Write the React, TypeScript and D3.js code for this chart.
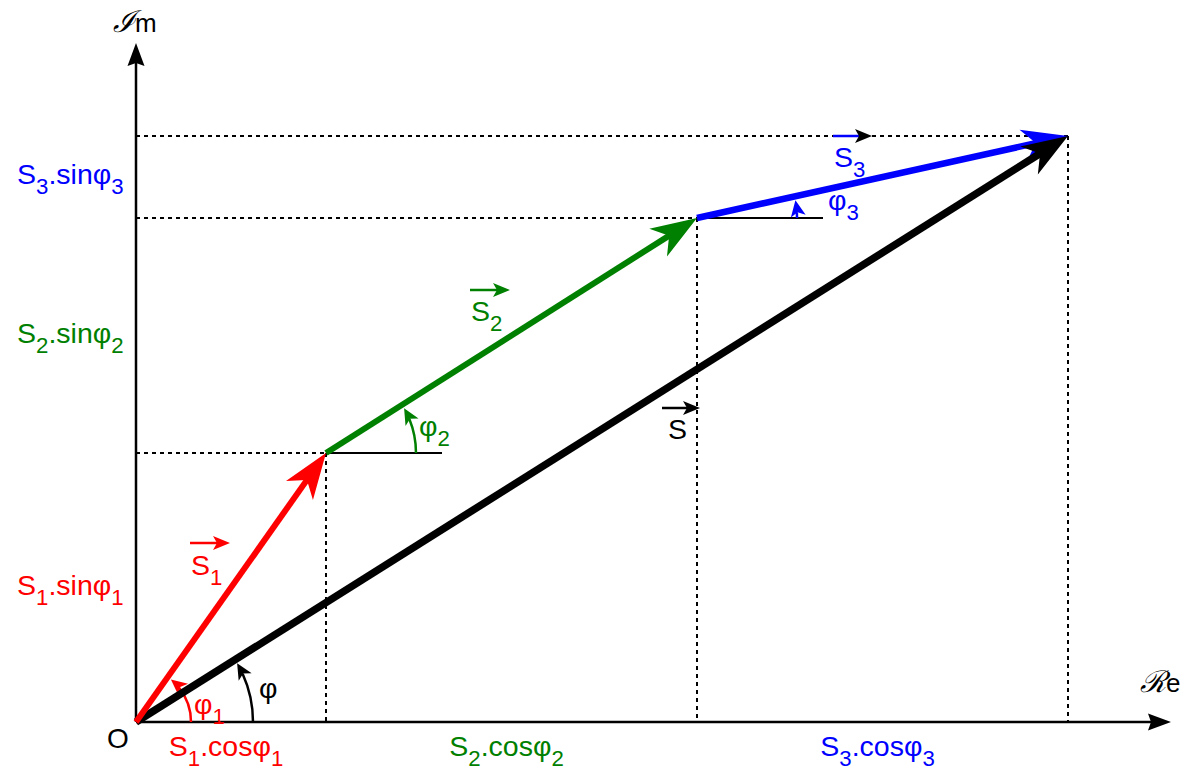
import * as d3 from "d3"

// phasor components (same unit on both axes)
const names = ["1", "2", "3"]
const reParts = [1.9, 3.71, 3.71]
const imParts = [2.69, 2.35, 0.82]
const colors = ["#ff0000", "#008000", "#0000ff"]
const reMax = 10.35
const imMax = 6.79

const W = 1184
const H = 770
const FONT = "'Liberation Sans', Arial, 'DejaVu Sans', sans-serif"

const x = d3.scaleLinear().domain([0, reMax]).range([136, 1171])
const y = d3.scaleLinear().domain([0, imMax]).range([722, 43])

// running sums -> start / end of each vector
const reCum = d3.cumsum(reParts)
const imCum = d3.cumsum(imParts)
const starts = names.map((_, i) => [i ? reCum[i - 1] : 0, i ? imCum[i - 1] : 0])
const ends = names.map((_, i) => [reCum[i], imCum[i]])
const total = [reCum[2], imCum[2]]

const headPts = (tx, ty, dx, dy, L, Wd, N) => {
  const nx = -dy
  const ny = dx
  return [
    [tx, ty],
    [tx - L * dx + Wd * nx, ty - L * dy + Wd * ny],
    [tx - N * dx, ty - N * dy],
    [tx - L * dx - Wd * nx, ty - L * dy - Wd * ny],
  ]
    .map((p) => p.join(","))
    .join(" ")
}

const Vector = ({ from, to, color, width = 6 }) => {
  const x0 = x(from[0])
  const y0 = y(from[1])
  const x1 = x(to[0])
  const y1 = y(to[1])
  const len = Math.hypot(x1 - x0, y1 - y0)
  const dx = (x1 - x0) / len
  const dy = (y1 - y0) / len
  return (
    <g>
      <line x1={x0} y1={y0} x2={x1 - 32 * dx} y2={y1 - 32 * dy} stroke={color} strokeWidth={width} />
      <polygon points={headPts(x1, y1, dx, dy, 46, 16.5, 33)} fill={color} />
    </g>
  )
}

// angle arc from horizontal to the vector, arrow at the end
const AngleArc = ({ cx, cy, r, theta, color }) => {
  const end = theta - 4 / r
  const p = d3.path()
  p.arc(cx, cy, r, 0, -(end - 12 / r), true)
  const tx = cx + r * Math.cos(end)
  const ty = cy - r * Math.sin(end)
  return (
    <g>
      <path d={p.toString()} fill="none" stroke={color} strokeWidth={2.5} />
      <polygon points={headPts(tx, ty, -Math.sin(end), -Math.cos(end), 16, 7.5, 12)} fill={color} />
    </g>
  )
}

// "S_1.sinφ_1" -> tspans with subscripts
const RichText = ({ x: tx, y: ty, text, color, size = 28.5, anchor = "start" }) => {
  const parts = text.split(/(_.)/).filter((s) => s.length)
  let down = false
  return (
    <text x={tx} y={ty} fill={color} fontSize={size} fontFamily={FONT} textAnchor={anchor}>
      {parts.map((s, i) => {
        if (s.startsWith("_")) {
          down = true
          return (
            <tspan key={i} fontSize={size * 0.78} dy={10}>
              {s.slice(1)}
            </tspan>
          )
        }
        const dy = down ? -10 : 0
        down = false
        return (
          <tspan key={i} dy={dy}>
            {s}
          </tspan>
        )
      })}
    </text>
  )
}

const VecLabel = ({ tx, ty, text, color, headColor, ax0, ax1, ay }) => (
  <g>
    <RichText x={tx} y={ty} text={text} color={color} />
    <line x1={ax0} y1={ay} x2={ax1 - 10} y2={ay} stroke={color} strokeWidth={2.5} />
    <polygon points={headPts(ax1, ay, 1, 0, 17, 7, 13)} fill={headColor || color} />
  </g>
)

const angleOf = (from, to) => Math.atan2(y(from[1]) - y(to[1]), x(to[0]) - x(from[0]))

export default function App() {
  const ox = x(0)
  const oy = y(0)
  const thetas = names.map((_, i) => angleOf(starts[i], ends[i]))
  const thetaS = angleOf([0, 0], total)

  return (
    <svg width={W} height={H} style={{ position: "absolute", left: 0, top: 0, background: "#fff" }}>
      {/* dashed projections */}
      {ends.map((e, i) => (
        <g key={i} stroke="#000" strokeWidth={1.2} strokeDasharray="4 4" shapeRendering="crispEdges">
          <line x1={ox} y1={Math.round(y(e[1]))} x2={x(e[0])} y2={Math.round(y(e[1]))} />
          <line x1={Math.round(x(e[0]))} y1={y(e[1])} x2={Math.round(x(e[0]))} y2={oy} />
        </g>
      ))}

      {/* axes */}
      <line x1={ox} y1={oy} x2={ox} y2={y(imMax) + 15} stroke="#000" strokeWidth={2.5} />
      <polygon points={headPts(ox, y(imMax), 0, -1, 23, 8.5, 20)} fill="#000" />
      <line x1={ox} y1={oy} x2={x(reMax) - 15} y2={oy} stroke="#000" strokeWidth={2.5} />
      <polygon points={headPts(x(reMax), oy, 1, 0, 23, 8.5, 20)} fill="#000" />
      <text x={113} y={32} fontSize={26} fontFamily={FONT}>
        <tspan fontFamily="'DejaVu Serif', serif" fontStyle="italic" fontSize={30}>ℐ</tspan>m
      </text>
      <text x={1140} y={692} fontSize={26} fontFamily={FONT}>
        <tspan fontFamily="'DejaVu Serif', serif" fontStyle="italic" fontSize={30}>ℛ</tspan>e
      </text>
      <text x={107} y={748} fontSize={28} fontFamily={FONT}>
        O
      </text>

      {/* horizontal references for φ2, φ3 */}
      {[1, 2].map((i) => (
        <line
          key={i}
          x1={x(starts[i][0])}
          y1={y(starts[i][1])}
          x2={x(starts[i][0]) + (i === 1 ? 116 : 126)}
          y2={y(starts[i][1])}
          stroke="#000"
          strokeWidth={1.8}
        />
      ))}

      {/* angle arcs */}
      <AngleArc cx={ox} cy={oy} r={55} theta={thetas[0]} color={colors[0]} />
      <AngleArc cx={ox} cy={oy} r={117} theta={thetaS} color="#000" />
      <AngleArc cx={x(starts[1][0])} cy={y(starts[1][1])} r={90} theta={thetas[1]} color={colors[1]} />
      <AngleArc cx={x(starts[2][0])} cy={y(starts[2][1])} r={100} theta={thetas[2]} color={colors[2]} />

      {/* vectors */}
      <Vector from={starts[1]} to={ends[1]} color={colors[1]} />
      <Vector from={starts[2]} to={ends[2]} color={colors[2]} width={6.5} />
      <Vector from={[0, 0]} to={total} color="#000" width={7.5} />
      <Vector from={starts[0]} to={ends[0]} color={colors[0]} />

      {/* angle labels */}
      <RichText x={194} y={714} text="φ_1" color={colors[0]} />
      <RichText x={259} y={698} text="φ" color="#000" />
      <RichText x={419} y={436} text="φ_2" color={colors[1]} />
      <RichText x={828} y={210} text="φ_3" color={colors[2]} />

      {/* vector labels */}
      <VecLabel tx={191} ty={575} text="S_1" color={colors[0]} ax0={190} ax1={230} ay={543} />
      <VecLabel tx={471} ty={321} text="S_2" color={colors[1]} ax0={470} ax1={510} ay={290} />
      <VecLabel tx={668} ty={439} text="S" color="#000" ax0={662} ax1={700} ay={408} />
      <VecLabel tx={834} ty={167} text="S_3" color={colors[2]} headColor="#000" ax0={833} ax1={872} ay={136} />

      {/* projections */}
      {names.map((n, i) => (
        <RichText
          key={"sin" + n}
          x={17}
          y={(y(starts[i][1]) + y(ends[i][1])) / 2 + 7}
          text={`S_${n}.sinφ_${n}`}
          color={colors[i]}
        />
      ))}
      {names.map((n, i) => (
        <RichText
          key={"cos" + n}
          x={(x(starts[i][0]) + x(ends[i][0])) / 2 - 5}
          y={756}
          text={`S_${n}.cosφ_${n}`}
          color={colors[i]}
          anchor="middle"
        />
      ))}
    </svg>
  )
}
